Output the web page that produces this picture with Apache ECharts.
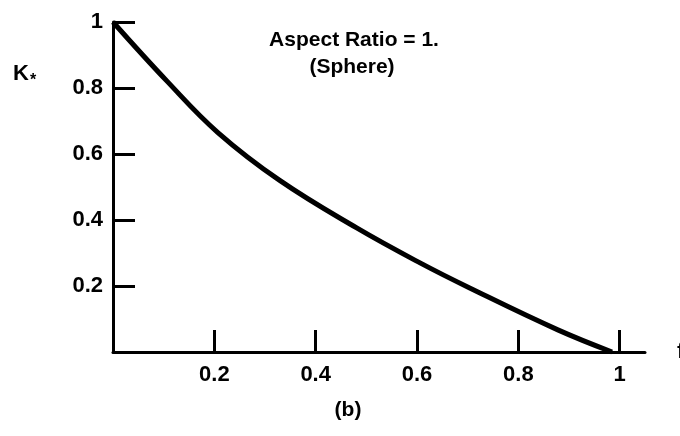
<!DOCTYPE html>
<html>
<head>
<meta charset="utf-8">
<script src="https://cdn.jsdelivr.net/npm/echarts@6/dist/echarts.min.js"></script>
<style>html,body{margin:0;padding:0;background:#fff;}#c{width:680px;height:436px;}</style>
</head>
<body>
<div id="c"></div>
<script>
// Data
const fValues = [0, 0.107, 0.207, 0.329, 0.481, 0.606, 0.704, 0.878, 0.985];
const kValues = [1, 0.82, 0.665, 0.52, 0.376, 0.27, 0.194, 0.067, 0];
const xTickValues = [0.2, 0.4, 0.6, 0.8, 1];
const yTickValues = [0.2, 0.4, 0.6, 0.8, 1];
const titleLines = ['Aspect Ratio = 1.', '(Sphere)'];
const panelLabel = '(b)';
const xName = 'f';

const FONT = '"Liberation Sans", Arial, Helvetica, sans-serif';
const chart = echarts.init(document.getElementById('c'));
const fmt = v => (Math.abs(v - 1) < 1e-9 ? '1' : String(v));

chart.setOption({
  animation: false,
  backgroundColor: '#fff',
  grid: { left: 113, right: 35, top: 22, bottom: 84, containLabel: false, outerBoundsMode: 'none' },
  xAxis: {
    type: 'value', min: 0, max: 1.05,
    name: xName, nameLocation: 'end', nameGap: 32,
    nameTextStyle: { color: '#000', fontSize: 22, fontWeight: 'bold', fontFamily: FONT, verticalAlign: 'middle' },
    axisLine: { show: true, lineStyle: { color: '#000', width: 3 } },
    axisTick: { show: true, inside: true, length: 22, lineStyle: { color: '#000', width: 3 }, customValues: xTickValues },
    axisLabel: { show: true, margin: 12, color: '#000', fontSize: 22, fontWeight: 'bold', fontFamily: FONT, customValues: xTickValues, formatter: fmt },
    splitLine: { show: false }
  },
  yAxis: {
    type: 'value', min: 0, max: 1,
    axisLine: { show: true, lineStyle: { color: '#000', width: 3 } },
    axisTick: { show: true, inside: true, length: 22, lineStyle: { color: '#000', width: 3 }, customValues: yTickValues },
    axisLabel: { show: true, margin: 10, color: '#000', fontSize: 22, fontWeight: 'bold', fontFamily: FONT, customValues: yTickValues, formatter: fmt },
    splitLine: { show: false }
  },
  graphic: [
    { type: 'text', x: 354, y: 40, style: { text: titleLines[0], align: 'center', verticalAlign: 'middle', fontSize: 21, fontWeight: 'bold', fontFamily: FONT, fill: '#000' } },
    { type: 'text', x: 352, y: 67, style: { text: titleLines[1], align: 'center', verticalAlign: 'middle', fontSize: 21, fontWeight: 'bold', fontFamily: FONT, fill: '#000' } },
    { type: 'text', x: 348, y: 410, style: { text: panelLabel, align: 'center', verticalAlign: 'middle', fontSize: 21, fontWeight: 'bold', fontFamily: FONT, fill: '#000' } },
    { type: 'text', x: 13, y: 74, style: { text: '{k|K}{s|*}', align: 'left', verticalAlign: 'middle', fill: '#000',
        rich: { k: { fontSize: 22, fontWeight: 'bold', fontFamily: FONT, fill: '#000' },
                s: { fontSize: 16, fontWeight: 'bold', fontFamily: FONT, fill: '#000', padding: [14, 0, 0, 1] } } } }
  ],
  series: [{
    type: 'line',
    data: fValues.map((f, i) => [f, kValues[i]]),
    smooth: 0.4,
    symbol: 'none',
    lineStyle: { color: '#000', width: 5 },
    clip: false
  }]
});
</script>
</body>
</html>
